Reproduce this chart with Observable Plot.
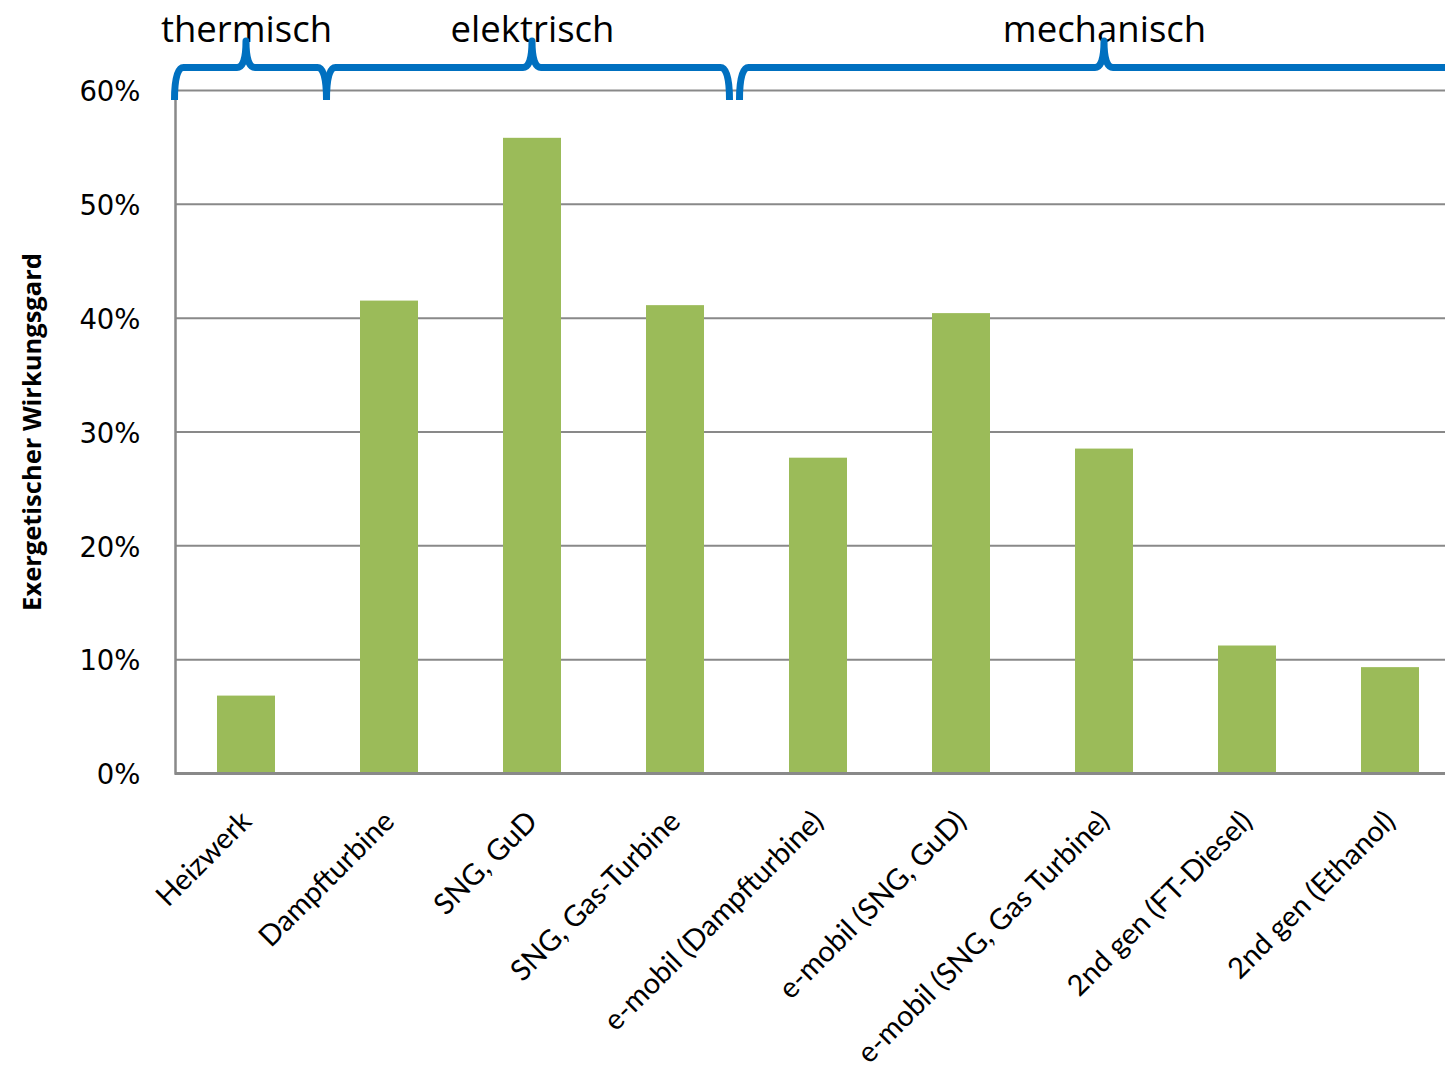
<!DOCTYPE html>
<html><head><meta charset="utf-8">
<script src="https://cdn.jsdelivr.net/npm/d3@7"></script>
<script src="https://cdn.jsdelivr.net/npm/@observablehq/plot@0.6"></script>
<style>
html,body{margin:0;padding:0;background:#fff;overflow:hidden;}
svg{overflow:hidden !important;display:block;}
</style>
</head><body><div id="chart"></div>
<script>
// ---- data ----
const categories = [
  "Heizwerk", "Dampfturbine", "SNG, GuD", "SNG, Gas-Turbine",
  "e-mobil (Dampfturbine)", "e-mobil (SNG, GuD)", "e-mobil (SNG, Gas Turbine)",
  "2nd gen (FT-Diesel)", "2nd gen (Ethanol)"
];
const values = [0.068, 0.415, 0.558, 0.411, 0.277, 0.404, 0.285, 0.112, 0.093];
const yTicks = [0, 0.1, 0.2, 0.3, 0.4, 0.5, 0.6];
const yLabel = "Exergetischer Wirkungsgard";
const groupLabels = ["thermisch", "elektrisch", "mechanisch"];
const groupFirst = ["Heizwerk", "Dampfturbine", "e-mobil (Dampfturbine)"];
const groupLast = ["Heizwerk", "SNG, Gas-Turbine", "2nd gen (Ethanol)"];
const groupMid = ["Heizwerk", "SNG, GuD", "e-mobil (SNG, Gas Turbine)"];

const data = categories.map((c, i) => ({cat: c, value: values[i]}));
const groups = groupLabels.map((g, i) => ({label: g, first: groupFirst[i], last: groupLast[i], mid: groupMid[i]}));

const GREEN = "#9bbb59", GRID = "#898989", BLUE = "#0070c0";

const chart = Plot.plot({
  width: 1445, height: 1072,
  marginTop: 90, marginBottom: 299, marginLeft: 175, marginRight: 0,
  x: {domain: categories, range: [175, 1462], paddingInner: 0.594, paddingOuter: 0.297, label: null},
  y: {domain: [0, 0.6], label: null},
  style: {background: "white"},
  marks: [
    Plot.ruleY(yTicks, {stroke: GRID, strokeWidth: 2}),
    Plot.barY(data, {x: "cat", y: "value", fill: GREEN}),
    Plot.ruleY([0], {stroke: GRID, strokeWidth: 3}),
    Plot.frame({anchor: "left", stroke: GRID, strokeWidth: 2.5}),
    Plot.axisY({ticks: yTicks, tickFormat: d3.format(".0%"), tickSize: 0, tickPadding: 35, dy: 2,
      fontSize: 27.5, fontFamily: "DejaVu Sans", fill: "#000", label: null}),
    Plot.axisX({tickRotate: -45, tickSize: 0, tickPadding: 43, fontSize: 29,
      fontFamily: "Lato", fill: "#000", label: null}),
    Plot.text([yLabel], {frameAnchor: "left", textAnchor: "middle", rotate: -90, dx: -143, fontSize: 25.5,
      fontWeight: "bold", fontFamily: "Open Sans", fill: "#000"}),
    Plot.text(groups, {x: "mid", frameAnchor: "top", lineAnchor: "bottom", dy: -49, text: "label",
      fontSize: 36.5, fontFamily: "Open Sans", fill: "#000"})
  ]
});
document.getElementById("chart").appendChild(chart);

// ---- braces, positioned through Plot's scales ----
const xs = chart.scale("x");
const step = xs.step ?? (xs.apply(categories[1]) - xs.apply(categories[0]));
const bw = xs.bandwidth ?? (step * (1 - 0.594));
const leftEdge = c => xs.apply(c) + bw / 2 - step / 2;
const center = c => xs.apply(c) + bw / 2;
const yTop = chart.scale("y").apply(0.6);
const yb = yTop + 10, ym = yTop - 22.5, yt = yTop - 49, r = 9;
// hand-drawn offsets of the brace ends relative to the band boundaries
const startShift = [0, 9, -7], endShift = [9, -17, 0];
const svg = d3.select(chart.tagName.toLowerCase() === "svg" ? chart : chart.querySelector("svg"));
groups.forEach((g, i) => {
  const x0 = leftEdge(g.first) + startShift[i];
  const x1 = leftEdge(g.last) + step + endShift[i];
  const xm = center(g.mid);
  const p = d3.path();
  p.moveTo(x0, yb);
  p.quadraticCurveTo(x0, ym, x0 + r, ym);
  p.lineTo(xm - r, ym);
  p.quadraticCurveTo(xm, ym, xm, yt);
  p.quadraticCurveTo(xm, ym, xm + r, ym);
  p.lineTo(x1 - r, ym);
  p.quadraticCurveTo(x1, ym, x1, yb);
  svg.append("path").attr("d", p.toString()).attr("fill", "none")
    .attr("stroke", BLUE).attr("stroke-width", 7).attr("stroke-linejoin", "round");
});
</script>
</body></html>
